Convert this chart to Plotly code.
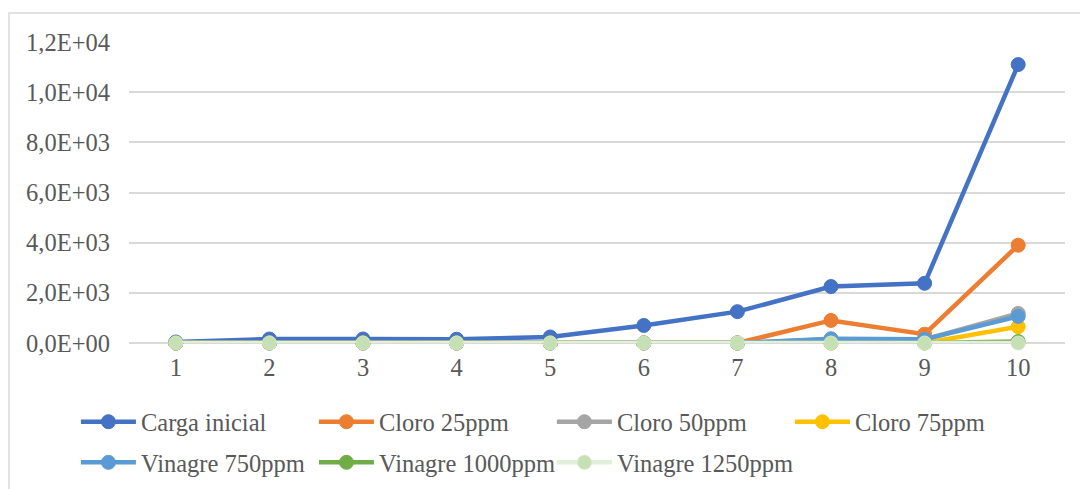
import plotly.graph_objects as go

# Días de muestreo
dias = ["1", "2", "3", "4", "5", "6", "7", "8", "9", "10"]

# Recuento por tratamiento
carga_inicial = [40, 160, 160, 150, 240, 700, 1250, 2250, 2380, 11100]
cloro_25 = [0, 0, 0, 0, 0, 0, 0, 900, 350, 3900]
cloro_50 = [0, 0, 0, 0, 0, 0, 0, 150, 140, 1180]
cloro_75 = [0, 0, 0, 0, 0, 0, 0, 0, 0, 650]
vinagre_750 = [0, 0, 0, 0, 0, 0, 0, 170, 150, 1060]
vinagre_1000 = [0, 0, 0, 0, 0, 0, 0, 0, 0, 60]
vinagre_1250 = [0, 0, 0, 0, 0, 0, 0, 0, 0, 0]

# Eje Y
y_ticks = [0, 2000, 4000, 6000, 8000, 10000, 12000]
y_tick_labels = ["0,0E+00", "2,0E+03", "4,0E+03", "6,0E+03", "8,0E+03", "1,0E+04", "1,2E+04"]

series = [
    ("Carga inicial", carga_inicial, "#4472C4", "#4472C4", "legend"),
    ("Cloro 25ppm", cloro_25, "#ED7D31", "#ED7D31", "legend"),
    ("Cloro 50ppm", cloro_50, "#A5A5A5", "#A5A5A5", "legend"),
    ("Cloro 75ppm", cloro_75, "#FFC000", "#FFC000", "legend"),
    ("Vinagre 750ppm", vinagre_750, "#5B9BD5", "#5B9BD5", "legend2"),
    ("Vinagre 1000ppm", vinagre_1000, "#70AD47", "#70AD47", "legend4"),
    ("Vinagre 1250ppm", vinagre_1250, "#E2EFDA", "#C5E0B4", "legend3"),
]

fig = go.Figure()
for name, vals, line_color, marker_color, leg in series:
    fig.add_trace(go.Scatter(
        x=dias, y=vals, name=name, mode="lines+markers", legend=leg,
        line=dict(color=line_color, width=4.5),
        marker=dict(size=14, color=marker_color,
                    line=dict(color="#D6E8C8" if name == "Vinagre 1250ppm" else marker_color, width=1)),
        cliponaxis=False,
    ))

font_family = "Liberation Serif"
txt = dict(family=font_family, size=24.5, color="#595959")

legend_common = dict(
    orientation="h", xanchor="left", yanchor="top",
    entrywidth=168, entrywidthmode="pixels", itemwidth=55,
    font=txt, bgcolor="rgba(0,0,0,0)",
)
single_legend = dict(orientation="h", xanchor="left", yanchor="top",
                     itemwidth=55, font=txt, bgcolor="rgba(0,0,0,0)")

fig.update_layout(
    width=1080, height=489,
    margin=dict(l=129, r=15, t=42, b=146, autoexpand=False),
    paper_bgcolor="white", plot_bgcolor="white",
    font=txt,
    showlegend=True,
    legend=dict(x=-0.0567, y=-0.187, **legend_common),
    legend2=dict(x=-0.0567, y=-0.322, **single_legend),
    legend4=dict(x=0.1976, y=-0.322, **single_legend),
    legend3=dict(x=0.4519, y=-0.322, **single_legend),
    xaxis=dict(
        type="category", showgrid=False, showline=False, ticks="",
        zeroline=False, tickfont=txt, automargin=False,
        range=[-0.5, 9.5], ticklabelstandoff=7,
    ),
    yaxis=dict(
        range=[0, 12000], tickvals=y_ticks, ticktext=y_tick_labels,
        showgrid=True, gridcolor="#D9D9D9", gridwidth=1.5,
        zeroline=True, zerolinecolor="#D9D9D9", zerolinewidth=1.5,
        showline=False, ticks="", ticklabelstandoff=18, automargin=False,
        tickfont=txt,
    ),
    shapes=[dict(
        type="rect", xref="paper", yref="paper",
        x0=(9 - 129) / 936, x1=(1085 - 129) / 936,
        y0=(343 - 495) / 301, y1=(343 - 13) / 301,
        line=dict(color="#D9D9D9", width=1.5), layer="below",
    )],
)

fig.write_html("out.html")
